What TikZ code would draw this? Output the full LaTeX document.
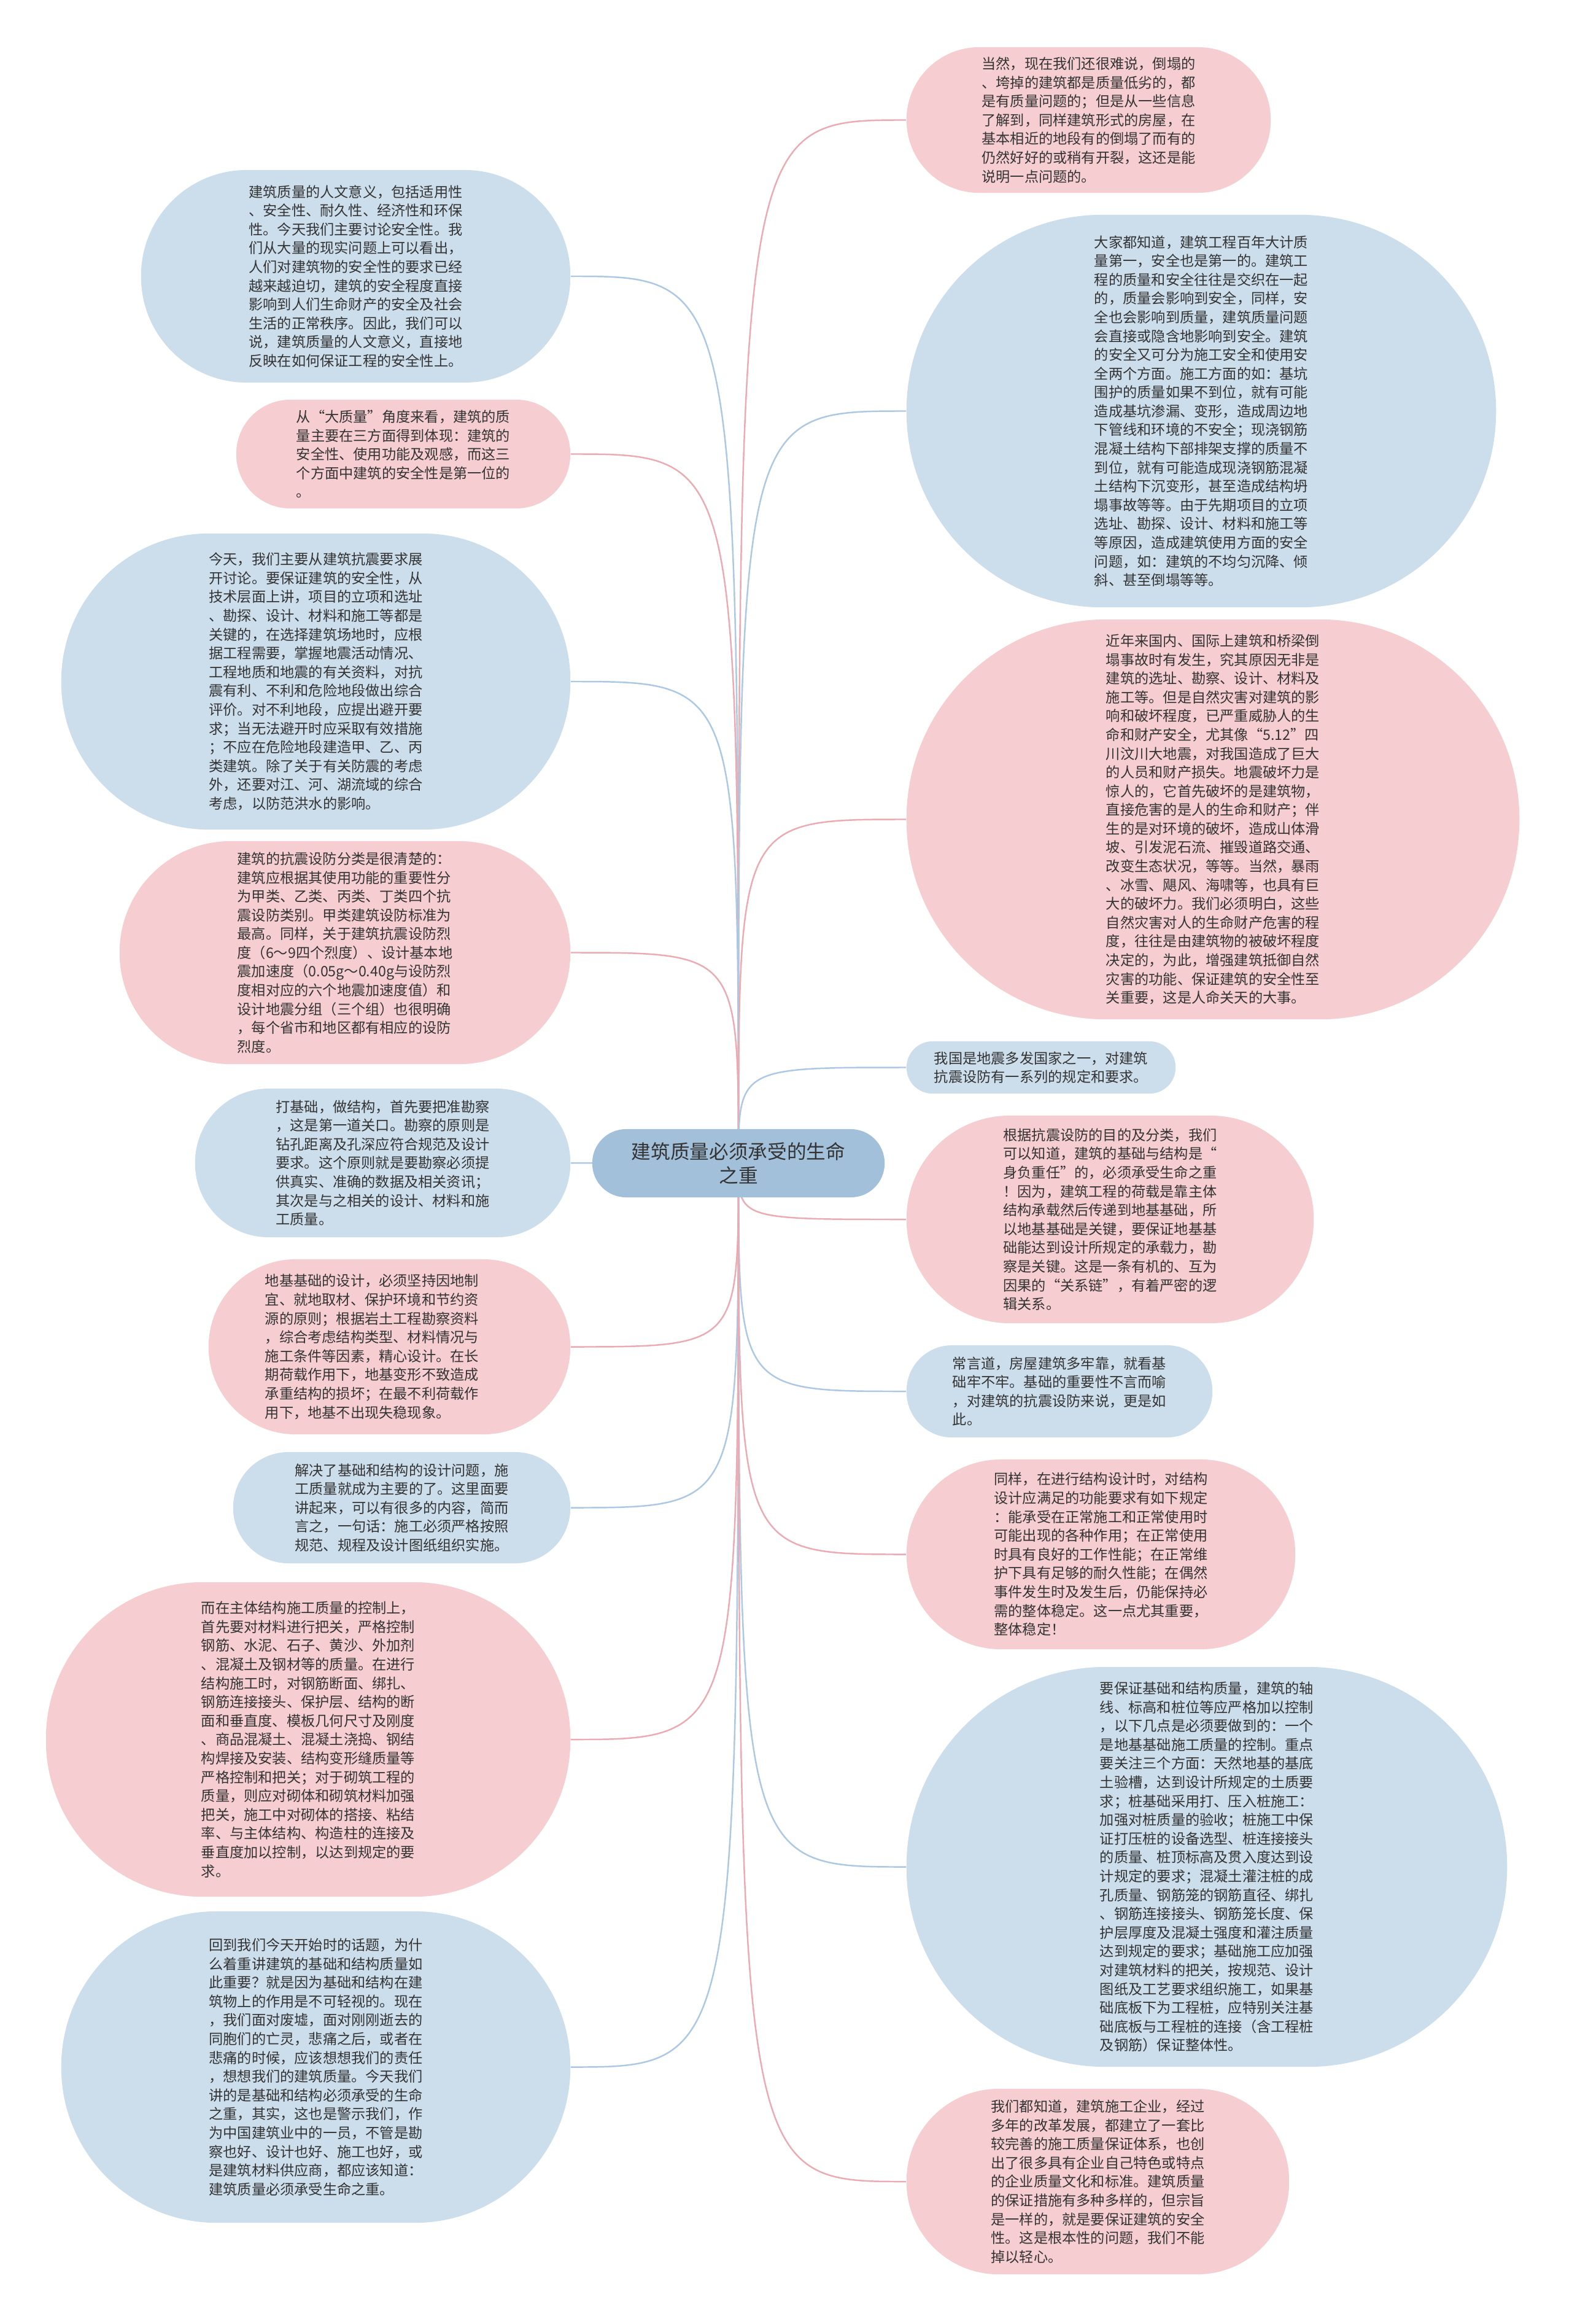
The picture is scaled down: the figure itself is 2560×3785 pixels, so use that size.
\documentclass[tikz,border=0pt]{standalone}
\usepackage{fontspec}
\setmainfont{Noto Sans CJK SC}
\usetikzlibrary{backgrounds}
\definecolor{bubblue}{RGB}{204,221,236}
\definecolor{bubpink}{RGB}{246,206,209}
\definecolor{rootblue}{RGB}{163,192,219}
\definecolor{lineblue}{RGB}{172,200,228}
\definecolor{linepink}{RGB}{236,170,178}
\definecolor{inktext}{RGB}{51,51,51}

\begin{document}
\begin{tikzpicture}[x=0.01cm,y=-0.01cm,
  bub/.style={inner sep=0pt,align=left,text=inktext,font=\fontsize{6.6pt}{8.7pt}\selectfont},
  bluebub/.style={bub,fill=bubblue},
  pinkbub/.style={bub,fill=bubpink},
  blueline/.style={draw=lineblue,line width=0.7pt},
  pinkline/.style={draw=linepink,line width=0.7pt}]
  \useasboundingbox (0,0) rectangle (2560,3785);

  \node[inner sep=0pt,align=center,text=inktext,fill=rootblue,font=\fontsize{9pt}{11pt}\selectfont,minimum width=4.76cm,minimum height=1.11cm,rounded corners=0.55cm] (root) at (1203,1894.5) {建筑质量必须承受的生命\\之重};

  \node[bluebub,minimum width=6.99cm,minimum height=3.46cm,rounded corners=1.72cm] (L1) at (579.5,450) {建筑质量的人文意义，包括适用性\\
    、安全性、耐久性、经济性和环保\\
    性。今天我们主要讨论安全性。我\\
    们从大量的现实问题上可以看出，\\
    人们对建筑物的安全性的要求已经\\
    越来越迫切，建筑的安全程度直接\\
    影响到人们生命财产的安全及社会\\
    生活的正常秩序。因此，我们可以\\
    说，建筑质量的人文意义，直接地\\
    反映在如何保证工程的安全性上。};
  \node[pinkbub,minimum width=5.44cm,minimum height=1.77cm,rounded corners=0.88cm] (L2) at (657,739.5) {从“大质量”角度来看，建筑的质\\
    量主要在三方面得到体现：建筑的\\
    安全性、使用功能及观感，而这三\\
    个方面中建筑的安全性是第一位的\\
    。};
  \node[bluebub,minimum width=8.29cm,minimum height=4.82cm,rounded corners=2.40cm] (L3) at (514.5,1110) {今天，我们主要从建筑抗震要求展\\
    开讨论。要保证建筑的安全性，从\\
    技术层面上讲，项目的立项和选址\\
    、勘探、设计、材料和施工等都是\\
    关键的，在选择建筑场地时，应根\\
    据工程需要，掌握地震活动情况、\\
    工程地质和地震的有关资料，对抗\\
    震有利、不利和危险地段做出综合\\
    评价。对不利地段，应提出避开要\\
    求；当无法避开时应采取有效措施\\
    ；不应在危险地段建造甲、乙、丙\\
    类建筑。除了关于有关防震的考虑\\
    外，还要对江、河、湖流域的综合\\
    考虑，以防范洪水的影响。};
  \node[pinkbub,minimum width=7.34cm,minimum height=3.63cm,rounded corners=1.81cm] (L4) at (562,1551.5) {建筑的抗震设防分类是很清楚的：\\
    建筑应根据其使用功能的重要性分\\
    为甲类、乙类、丙类、丁类四个抗\\
    震设防类别。甲类建筑设防标准为\\
    最高。同样，关于建筑抗震设防烈\\
    度（6～9四个烈度）、设计基本地\\
    震加速度（0.05g～0.40g与设防烈\\
    度相对应的六个地震加速度值）和\\
    设计地震分组（三个组）也很明确\\
    ，每个省市和地区都有相应的设防\\
    烈度。};
  \node[bluebub,minimum width=6.11cm,minimum height=2.42cm,rounded corners=1.20cm] (L5) at (623.5,1894) {打基础，做结构，首先要把准勘察\\
    ，这是第一道关口。勘察的原则是\\
    钻孔距离及孔深应符合规范及设计\\
    要求。这个原则就是要勘察必须提\\
    供真实、准确的数据及相关资讯；\\
    其次是与之相关的设计、材料和施\\
    工质量。};
  \node[pinkbub,text width=4.05cm,minimum width=5.89cm,minimum height=2.85cm,rounded corners=1.42cm] (L6) at (634.5,2193.5) {地基基础的设计，必须坚持因地制\\
    宜、就地取材、保护环境和节约资\\
    源的原则；根据岩土工程勘察资料\\
    ，综合考虑结构类型、材料情况与\\
    施工条件等因素，精心设计。在长\\
    期荷载作用下，地基变形不致造成\\
    承重结构的损坏；在最不利荷载作\\
    用下，地基不出现失稳现象。};
  \node[bluebub,minimum width=5.49cm,minimum height=1.81cm,rounded corners=0.90cm] (L7) at (654.5,2455.5) {解决了基础和结构的设计问题，施\\
    工质量就成为主要的了。这里面要\\
    讲起来，可以有很多的内容，简而\\
    言之，一句话：施工必须严格按照\\
    规范、规程及设计图纸组织实施。};
  \node[pinkbub,minimum width=8.54cm,minimum height=5.12cm,rounded corners=2.55cm] (L8) at (502,2833) {而在主体结构施工质量的控制上，\\
    首先要对材料进行把关，严格控制\\
    钢筋、水泥、石子、黄沙、外加剂\\
    、混凝土及钢材等的质量。在进行\\
    结构施工时，对钢筋断面、绑扎、\\
    钢筋连接接头、保护层、结构的断\\
    面和垂直度、模板几何尺寸及刚度\\
    、商品混凝土、混凝土浇捣、钢结\\
    构焊接及安装、结构变形缝质量等\\
    严格控制和把关；对于砌筑工程的\\
    质量，则应对砌体和砌筑材料加强\\
    把关，施工中对砌体的搭接、粘结\\
    率、与主体结构、构造柱的连接及\\
    垂直度加以控制，以达到规定的要\\
    求。};
  \node[bluebub,minimum width=8.29cm,minimum height=5.07cm,rounded corners=2.53cm] (L9) at (514.5,3366.5) {回到我们今天开始时的话题，为什\\
    么着重讲建筑的基础和结构质量如\\
    此重要？就是因为基础和结构在建\\
    筑物上的作用是不可轻视的。现在\\
    ，我们面对废墟，面对刚刚逝去的\\
    同胞们的亡灵，悲痛之后，或者在\\
    悲痛的时候，应该想想我们的责任\\
    ，想想我们的建筑质量。今天我们\\
    讲的是基础和结构必须承受的生命\\
    之重，其实，这也是警示我们，作\\
    为中国建筑业中的一员，不管是勘\\
    察也好、设计也好、施工也好，或\\
    是建筑材料供应商，都应该知道：\\
    建筑质量必须承受生命之重。};

  \node[pinkbub,minimum width=5.93cm,minimum height=2.37cm,rounded corners=1.18cm] (R1) at (1773.5,195.5) {当然，现在我们还很难说，倒塌的\\
    、垮掉的建筑都是质量低劣的，都\\
    是有质量问题的；但是从一些信息\\
    了解到，同样建筑形式的房屋，在\\
    基本相近的地段有的倒塌了而有的\\
    仍然好好的或稍有开裂，这还是能\\
    说明一点问题的。};
  \node[bluebub,minimum width=9.60cm,minimum height=6.39cm,rounded corners=3.19cm] (R2) at (1957,669.5) {大家都知道，建筑工程百年大计质\\
    量第一，安全也是第一的。建筑工\\
    程的质量和安全往往是交织在一起\\
    的，质量会影响到安全，同样，安\\
    全也会影响到质量，建筑质量问题\\
    会直接或隐含地影响到安全。建筑\\
    的安全又可分为施工安全和使用安\\
    全两个方面。施工方面的如：基坑\\
    围护的质量如果不到位，就有可能\\
    造成基坑渗漏、变形，造成周边地\\
    下管线和环境的不安全；现浇钢筋\\
    混凝土结构下部排架支撑的质量不\\
    到位，就有可能造成现浇钢筋混凝\\
    土结构下沉变形，甚至造成结构坍\\
    塌事故等等。由于先期项目的立项\\
    选址、勘探、设计、材料和施工等\\
    等原因，造成建筑使用方面的安全\\
    问题，如：建筑的不均匀沉降、倾\\
    斜、甚至倒塌等等。};
  \node[pinkbub,minimum width=9.98cm,minimum height=6.51cm,rounded corners=3.25cm] (R3) at (1976,1334.5) {近年来国内、国际上建筑和桥梁倒\\
    塌事故时有发生，究其原因无非是\\
    建筑的选址、勘察、设计、材料及\\
    施工等。但是自然灾害对建筑的影\\
    响和破坏程度，已严重威胁人的生\\
    命和财产安全，尤其像“5.12”四\\
    川汶川大地震，对我国造成了巨大\\
    的人员和财产损失。地震破坏力是\\
    惊人的，它首先破坏的是建筑物，\\
    直接危害的是人的生命和财产；伴\\
    生的是对环境的破坏，造成山体滑\\
    坡、引发泥石流、摧毁道路交通、\\
    改变生态状况，等等。当然，暴雨\\
    、冰雪、飓风、海啸等，也具有巨\\
    大的破坏力。我们必须明白，这些\\
    自然灾害对人的生命财产危害的程\\
    度，往往是由建筑物的被破坏程度\\
    决定的，为此，增强建筑抵御自然\\
    灾害的功能、保证建筑的安全性至\\
    关重要，这是人命关天的大事。};
  \node[bluebub,minimum width=4.38cm,minimum height=0.85cm,rounded corners=0.42cm] (R4) at (1696,1738.5) {我国是地震多发国家之一，对建筑\\
    抗震设防有一系列的规定和要求。};
  \node[pinkbub,minimum width=6.63cm,minimum height=3.38cm,rounded corners=1.68cm] (R5) at (1808.5,1986) {根据抗震设防的目的及分类，我们\\
    可以知道，建筑的基础与结构是“\\
    身负重任”的，必须承受生命之重\\
    ！因为，建筑工程的荷载是靠主体\\
    结构承载然后传递到地基基础，所\\
    以地基基础是关键，要保证地基基\\
    础能达到设计所规定的承载力，勘\\
    察是关键。这是一条有机的、互为\\
    因果的“关系链”，有着严密的逻\\
    辑关系。};
  \node[bluebub,minimum width=4.98cm,minimum height=1.50cm,rounded corners=0.74cm] (R6) at (1726,2266) {常言道，房屋建筑多牢靠，就看基\\
    础牢不牢。基础的重要性不言而喻\\
    ，对建筑的抗震设防来说，更是如\\
    此。};
  \node[pinkbub,minimum width=6.33cm,minimum height=3.09cm,rounded corners=1.54cm] (R7) at (1793.5,2531.5) {同样，在进行结构设计时，对结构\\
    设计应满足的功能要求有如下规定\\
    ：能承受在正常施工和正常使用时\\
    可能出现的各种作用；在正常使用\\
    时具有良好的工作性能；在正常维\\
    护下具有足够的耐久性能；在偶然\\
    事件发生时及发生后，仍能保持必\\
    需的整体稳定。这一点尤其重要，\\
    整体稳定！};
  \node[bluebub,minimum width=9.78cm,minimum height=6.51cm,rounded corners=3.25cm] (R8) at (1966,3040.5) {要保证基础和结构质量，建筑的轴\\
    线、标高和桩位等应严格加以控制\\
    ，以下几点是必须要做到的：一个\\
    是地基基础施工质量的控制。重点\\
    要关注三个方面：天然地基的基底\\
    土验槽，达到设计所规定的土质要\\
    求；桩基础采用打、压入桩施工：\\
    加强对桩质量的验收；桩施工中保\\
    证打压桩的设备选型、桩连接接头\\
    的质量、桩顶标高及贯入度达到设\\
    计规定的要求；混凝土灌注桩的成\\
    孔质量、钢筋笼的钢筋直径、绑扎\\
    、钢筋连接接头、钢筋笼长度、保\\
    护层厚度及混凝土强度和灌注质量\\
    达到规定的要求；基础施工应加强\\
    对建筑材料的把关，按规范、设计\\
    图纸及工艺要求组织施工，如果基\\
    础底板下为工程桩，应特别关注基\\
    础底板与工程桩的连接（含工程桩\\
    及钢筋）保证整体性。};
  \node[pinkbub,minimum width=6.23cm,minimum height=3.02cm,rounded corners=1.50cm] (R9) at (1788.5,3553) {我们都知道，建筑施工企业，经过\\
    多年的改革发展，都建立了一套比\\
    较完善的施工质量保证体系，也创\\
    出了很多具有企业自己特色或特点\\
    的企业质量文化和标准。建筑质量\\
    的保证措施有多种多样的，但宗旨\\
    是一样的，就是要保证建筑的安全\\
    性。这是根本性的问题，我们不能\\
    掉以轻心。};

  \begin{scope}[on background layer]
    \fill[white] (0,0) rectangle (2560,3785);
    \draw[blueline] (root.center) .. controls (root.center |- L1.east) .. (L1.east);
    \draw[pinkline] (root.center) .. controls (root.center |- L2.east) .. (L2.east);
    \draw[blueline] (root.center) .. controls (root.center |- L3.east) .. (L3.east);
    \draw[pinkline] (root.center) .. controls (root.center |- L4.east) .. (L4.east);
    \draw[blueline] (root.center) .. controls (root.center |- L5.east) .. (L5.east);
    \draw[pinkline] (root.center) .. controls (root.center |- L6.east) .. (L6.east);
    \draw[blueline] (root.center) .. controls (root.center |- L7.east) .. (L7.east);
    \draw[pinkline] (root.center) .. controls (root.center |- L8.east) .. (L8.east);
    \draw[blueline] (root.center) .. controls (root.center |- L9.east) .. (L9.east);
    \draw[pinkline] (root.center) .. controls (root.center |- R1.west) .. (R1.west);
    \draw[blueline] (root.center) .. controls (root.center |- R2.west) .. (R2.west);
    \draw[pinkline] (root.center) .. controls (root.center |- R3.west) .. (R3.west);
    \draw[blueline] (root.center) .. controls (root.center |- R4.west) .. (R4.west);
    \draw[pinkline] (root.center) .. controls (root.center |- R5.west) .. (R5.west);
    \draw[blueline] (root.center) .. controls (root.center |- R6.west) .. (R6.west);
    \draw[pinkline] (root.center) .. controls (root.center |- R7.west) .. (R7.west);
    \draw[blueline] (root.center) .. controls (root.center |- R8.west) .. (R8.west);
    \draw[pinkline] (root.center) .. controls (root.center |- R9.west) .. (R9.west);
  \end{scope}
\end{tikzpicture}
\end{document}
